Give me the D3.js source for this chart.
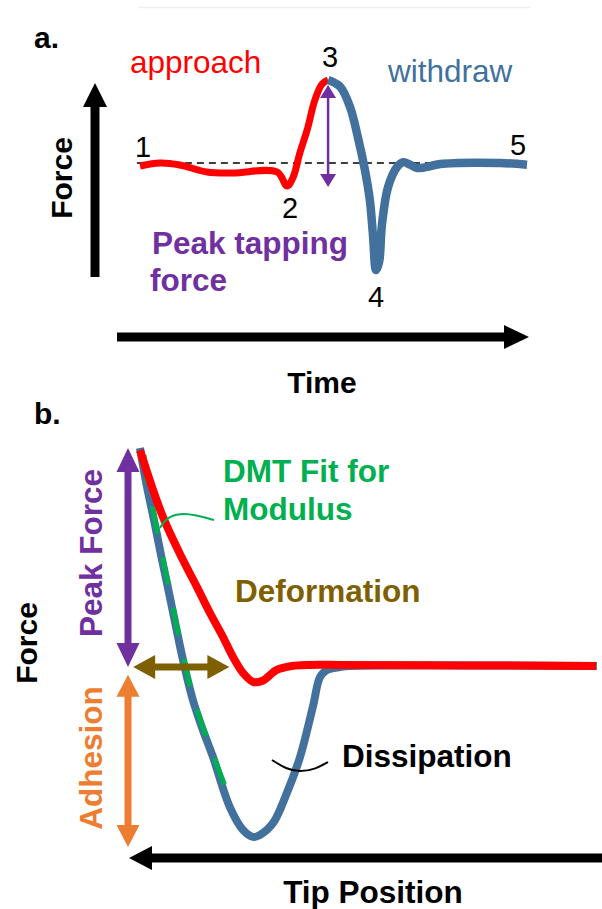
<!DOCTYPE html>
<html>
<head>
<meta charset="utf-8">
<script src="https://cdn.jsdelivr.net/npm/d3@7/dist/d3.min.js"></script>
<style>
  html, body { margin: 0; padding: 0; background: #fff; }
  svg { display: block; }
  text { font-family: Arial, "Liberation Sans", sans-serif; }
</style>
</head>
<body>
<svg id="fig" width="602" height="909"></svg>
<script>
// ---- Panel a: force vs time over one tapping cycle ----
const approachTime  = [0, 5.2, 10.3, 17.3, 24, 35.4, 38, 39.5, 41.3, 43.2, 45.2, 47, 48.6];
const approachForce = [-0.036, 0, -0.024, -0.108, -0.12, -0.108, -0.277, -0.18, 0.12, 0.40, 0.76, 0.95, 1.0];
const withdrawTime  = [48.6, 51.7, 54.3, 56.3, 58.1, 59.4, 60.2, 61.0, 61.8, 62.5, 64.1, 66.4, 68.0, 69.8, 71.6, 78.3, 93, 100];
const withdrawForce = [1.0, 0.92, 0.67, 0.31, -0.08, -0.45, -0.87, -1.29, -1.19, -0.75, -0.29, -0.05, 0.01, -0.02, -0.06, -0.01, 0, -0.02];
const pointLabels   = ["1", "2", "3", "4", "5"];

// ---- Panel b: force vs tip position ----
const approachPos   = [0, 5.04, 9.43, 12.5, 15.35, 18.2, 20.4, 22.6, 24.8, 26.75, 30.0, 33.3, 37.3, 43.9, 100];
const approachPosF  = [0.99, 0.683, 0.486, 0.362, 0.243, 0.133, 0.041, -0.032, -0.073, -0.069, -0.018, 0, 0.005, 0.005, 0];
const withdrawPos   = [0, 1.54, 3.07, 4.61, 6.14, 7.68, 9.43, 11.6, 13.8, 16.0, 19.7, 22.6, 24.8, 26.3, 29.2, 32.2, 35.1, 37.9, 39.5, 41.0, 43.9, 46.1, 100.2];
const withdrawPosF  = [1.0, 0.821, 0.670, 0.509, 0.358, 0.202, 0.028, -0.156, -0.294, -0.417, -0.647, -0.752, -0.784, -0.775, -0.72, -0.583, -0.417, -0.188, -0.05, -0.018, -0.005, 0, 0];
const fitPos        = [0.66, 1.54, 3.07, 4.61, 6.14, 7.68, 9.43, 11.6, 13.8, 16.0, 20.0];
const fitForce      = [0.968, 0.821, 0.670, 0.509, 0.358, 0.202, 0.028, -0.156, -0.294, -0.417, -0.638];

const C = {
  red: "#FF0000", blue: "#41719C", purple: "#7030A0", orange: "#ED7D31",
  olive: "#7F6000", green: "#00B050", black: "#000000"
};
const FS = 31.5;

const svg = d3.select("#fig");
const zip = (xs, ys) => xs.map((x, i) => [x, ys[i]]);

// Filled arrow polygon (single or double headed)
function arrow(g, x1, y1, x2, y2, o) {
  const dx = x2 - x1, dy = y2 - y1, L = Math.hypot(dx, dy);
  const ux = dx / L, uy = dy / L, nx = -uy, ny = ux;
  const sw = o.shaft / 2, hw = o.headW / 2, hl = o.headLen;
  const P = (x, y, a, b) => [x + nx * a + ux * b, y + ny * a + uy * b];
  let pts;
  if (o.double) {
    pts = [
      [x1, y1], P(x1, y1, hw, hl), P(x1, y1, sw, hl), P(x2, y2, sw, -hl), P(x2, y2, hw, -hl),
      [x2, y2], P(x2, y2, -hw, -hl), P(x2, y2, -sw, -hl), P(x1, y1, -sw, hl), P(x1, y1, -hw, hl)
    ];
  } else {
    pts = [
      P(x1, y1, sw, 0), P(x2, y2, sw, -hl), P(x2, y2, hw, -hl), [x2, y2],
      P(x2, y2, -hw, -hl), P(x2, y2, -sw, -hl), P(x1, y1, -sw, 0)
    ];
  }
  g.append("path").attr("d", "M" + pts.map(p => p.join(",")).join("L") + "Z").attr("fill", o.color);
}

function label(g, txt, x, y, o) {
  const t = g.append("text").attr("x", x).attr("y", y).text(txt)
    .attr("font-size", o.size || FS)
    .attr("font-weight", o.bold ? "bold" : "normal")
    .attr("fill", o.color || "#000")
    .attr("text-anchor", o.anchor || "start");
  if (o.rotate) t.attr("transform", `rotate(-90,${x},${y})`);
  return t;
}

// faint rule along the top edge
svg.append("line").attr("x1", 138).attr("x2", 530).attr("y1", 7.5).attr("y2", 7.5)
  .attr("stroke", "#f1eff6").attr("stroke-width", 1.5);

// ================= Panel a =================
const xA = d3.scaleLinear().domain([0, 100]).range([140, 527]);
const yA = d3.scaleLinear().domain([0, 1]).range([163, 80]);
const gA = svg.append("g");

label(gA, "a.", 34, 48, { bold: true, size: 30 });
label(gA, "approach", 130, 73, { color: C.red });
label(gA, "withdraw", 388, 82, { color: C.blue });

// axes as arrows
arrow(gA, 95, 277, 95, 83, { shaft: 9, headLen: 24, headW: 24, color: C.black });
arrow(gA, 117, 337, 529, 337, { shaft: 9, headLen: 25, headW: 24, color: C.black });
label(gA, "Force", 72, 178, { bold: true, rotate: true, anchor: "middle", size: 30 });
label(gA, "Time", 322, 393, { bold: true, anchor: "middle", size: 30 });

// zero-force reference
gA.append("line").attr("x1", xA(-0.8)).attr("x2", xA(100)).attr("y1", yA(0)).attr("y2", yA(0))
  .attr("stroke", "#000").attr("stroke-width", 1.5).attr("stroke-dasharray", "7,5");

const lineA = d3.line().x(d => xA(d[0])).y(d => yA(d[1])).curve(d3.curveCatmullRom.alpha(0.5));
gA.append("path").attr("d", lineA(zip(approachTime, approachForce)))
  .attr("fill", "none").attr("stroke", C.red).attr("stroke-width", 7)
  .attr("stroke-linejoin", "round");
gA.append("path").attr("d", lineA(zip(withdrawTime, withdrawForce)))
  .attr("fill", "none").attr("stroke", C.blue).attr("stroke-width", 8.5)
  .attr("stroke-linejoin", "round");

// peak tapping force marker
arrow(gA, xA(48.6), yA(0.94), xA(48.6), yA(-0.29), { shaft: 2.5, headLen: 13, headW: 16, color: C.purple, double: true });
label(gA, "Peak tapping", 152, 254, { bold: true, color: C.purple });
label(gA, "force", 150, 291, { bold: true, color: C.purple });

// numbered points
const numPos = [[143, 157], [290, 218], [330, 67], [376, 307], [518, 155]];
pointLabels.forEach((s, i) => label(gA, s, numPos[i][0], numPos[i][1], { size: 29, anchor: "middle" }));

// ================= Panel b =================
const xB = d3.scaleLinear().domain([0, 100]).range([140, 596]);
const yB = d3.scaleLinear().domain([0, 1]).range([666, 448]);
const gB = svg.append("g");

label(gB, "b.", 34, 424, { bold: true, size: 30 });

const lineB = d3.line().x(d => xB(d[0])).y(d => yB(d[1])).curve(d3.curveCatmullRom.alpha(0.5));
gB.append("path").attr("d", lineB(zip(withdrawPos, withdrawPosF)))
  .attr("fill", "none").attr("stroke", C.blue).attr("stroke-width", 8).attr("stroke-linejoin", "round");
gB.append("path").attr("d", lineB(zip(fitPos, fitForce)))
  .attr("transform", "translate(1,0)")
  .attr("fill", "none").attr("stroke", C.green).attr("stroke-width", 5)
  .attr("stroke-dasharray", "28,24");
gB.append("path").attr("d", lineB(zip(approachPos, approachPosF)))
  .attr("fill", "none").attr("stroke", C.red).attr("stroke-width", 8).attr("stroke-linejoin", "round");

// leader lines
const lead = d3.line().curve(d3.curveBasis);
gB.append("path").attr("d", lead([[160, 528], [166, 518], [180, 513], [196, 515], [214, 520]]))
  .attr("fill", "none").attr("stroke", C.green).attr("stroke-width", 2);
gB.append("path").attr("d", lead([[272, 760], [286, 769], [300, 772], [316, 769], [328, 762]]))
  .attr("fill", "none").attr("stroke", "#000").attr("stroke-width", 2);

// measurement arrows
arrow(gB, 128, yB(1), 128, yB(-0.005), { shaft: 7, headLen: 24, headW: 23, color: C.purple, double: true });
arrow(gB, 128, yB(-0.04), 128, yB(-0.83), { shaft: 7, headLen: 22, headW: 23, color: C.orange, double: true });
arrow(gB, xB(-1.5), yB(-0.005), xB(19.6), yB(-0.005), { shaft: 7, headLen: 22, headW: 24, color: C.olive, double: true });

// axis
arrow(gB, 602, 858, 129, 858, { shaft: 9, headLen: 23, headW: 24, color: C.black });
label(gB, "Tip Position", 373, 903, { bold: true, anchor: "middle" });
label(gB, "Force", 37, 643, { bold: true, rotate: true, anchor: "middle", size: 30 });

label(gB, "Peak Force", 102, 553, { bold: true, rotate: true, anchor: "middle", color: C.purple });
label(gB, "Adhesion", 102, 758, { bold: true, rotate: true, anchor: "middle", color: C.orange });
label(gB, "DMT Fit for", 223, 482, { bold: true, color: C.green });
label(gB, "Modulus", 223, 520, { bold: true, color: C.green });
label(gB, "Deformation", 235, 602, { bold: true, color: C.olive });
label(gB, "Dissipation", 342, 767, { bold: true });
</script>
</body>
</html>
